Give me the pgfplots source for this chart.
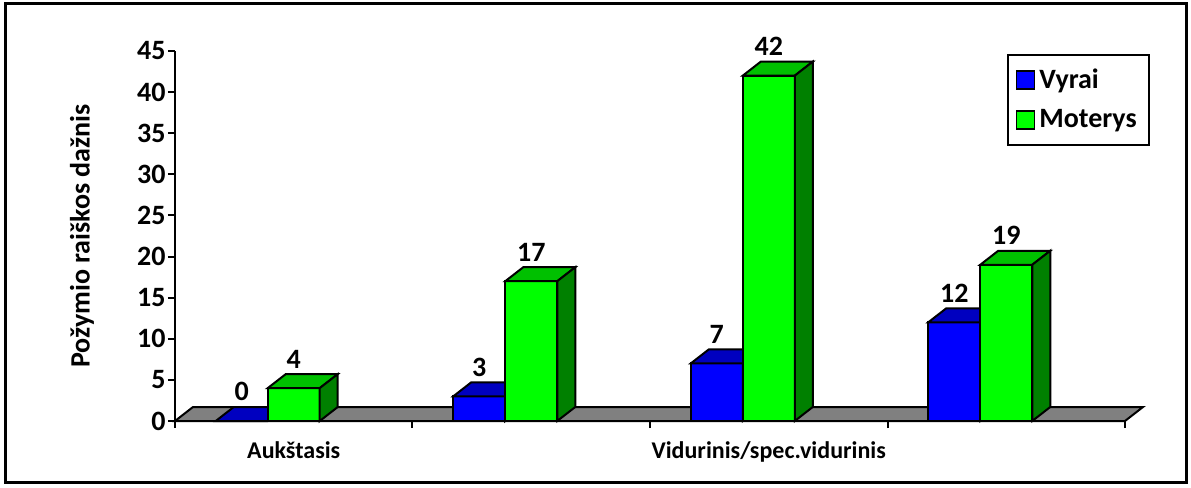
\documentclass[border=0pt]{standalone}
\usepackage{fontspec}
\setmainfont{Carlito}
\usepackage{pgfplots}
\usepackage{pgfplotstable}
\pgfplotsset{compat=1.18}

\definecolor{blueFront}{RGB}{0,0,255}
\definecolor{blueTop}{RGB}{0,0,192}
\definecolor{blueSide}{RGB}{0,0,128}
\definecolor{greenFront}{RGB}{0,255,0}
\definecolor{greenTop}{RGB}{0,192,0}
\definecolor{greenSide}{RGB}{0,128,0}
\definecolor{floorGray}{RGB}{128,128,128}

\pgfplotstableread{
x vyrai moterys
0 0  4
1 3  17
2 7  42
3 12 19
}\datatable

% y unit: 185pt for 45 units
\def\yu{4.1111pt}
\newdimen\cubeh
% front, top and side face of a bar, origin = top centre of the front face
\newcommand\cubefaces[3]{%
  \pgfsetlinewidth{1pt}%
  \pgfsetstrokecolor{black}%
  \pgfsetfillcolor{#1}%
  \pgfpathrectanglecorners{\pgfpoint{-13pt}{-\cubeh}}{\pgfpoint{13pt}{0pt}}%
  \pgfusepath{fill,stroke}%
  \pgfsetfillcolor{#2}%
  \pgfpathmoveto{\pgfpoint{-13pt}{0pt}}%
  \pgfpathlineto{\pgfpoint{13pt}{0pt}}%
  \pgfpathlineto{\pgfpoint{22pt}{7pt}}%
  \pgfpathlineto{\pgfpoint{-4pt}{7pt}}%
  \pgfpathclose
  \pgfusepath{fill,stroke}%
  \pgfsetfillcolor{#3}%
  \pgfpathmoveto{\pgfpoint{13pt}{0pt}}%
  \pgfpathlineto{\pgfpoint{22pt}{7pt}}%
  \pgfpathlineto{\pgfpointadd{\pgfpoint{22pt}{7pt}}{\pgfpoint{0pt}{-\cubeh}}}%
  \pgfpathlineto{\pgfpoint{13pt}{-\cubeh}}%
  \pgfpathclose
  \pgfusepath{fill,stroke}%
}
\pgfdeclareplotmark{cubeB}{\pgfmathsetlength\cubeh{\val*\yu}\cubefaces{blueFront}{blueTop}{blueSide}}
\pgfdeclareplotmark{cubeG}{\pgfmathsetlength\cubeh{\val*\yu}\cubefaces{greenFront}{greenTop}{greenSide}}

\begin{document}
\begin{tikzpicture}
\begin{axis}[
  x=118.75pt, y=\yu,
  xmin=-0.5, xmax=3.5, ymin=0, ymax=45,
  enlargelimits=false, clip=false,
  axis x line*=bottom, axis y line*=left,
  axis line style={-, line width=1pt},
  tick style={line width=1pt, black},
  tick align=outside, major tick length=3.5pt,
  ytick={0,5,...,45},
  xtick={-0.5,0.5,1.5,2.5,3.5}, xticklabels={},
  extra x ticks={0,2},
  extra x tick labels={Aukštasis,Vidurinis/spec.vidurinis},
  extra x tick style={major tick length=0pt,
    xticklabel style={font=\bfseries\fontsize{12}{14}\selectfont, yshift=-7pt}},
  yticklabel style={font=\bfseries\fontsize{14}{16}\selectfont, inner sep=1pt},
  /pgf/number format/assume math mode=true,
  ylabel={Požymio raiškos dažnis},
  ylabel style={font=\bfseries\fontsize{14}{16}\selectfont,
    at={(axis description cs:-0.098,0.5)}, anchor=center},
  nodes near coords style={font=\bfseries\fontsize{14}{16}\selectfont,
    anchor=south, inner sep=0pt, yshift=9.5pt},
  legend style={at={(axis description cs:1.026,0.992)}, anchor=north east,
    draw=black, line width=1pt, font=\bfseries\fontsize{14}{16}\selectfont,
    row sep=5pt, inner xsep=4pt, inner ysep=5pt},
  legend cell align=left,
]
\coordinate (O) at (axis cs:-0.5,0);
% floor
\addplot[fill=floorGray, draw=black, line width=1pt, forget plot]
  coordinates {(-0.5,0) (3.5,0) (3.5758,1.7027) (-0.4242,1.7027)} --cycle;

\addplot[ybar, bar width=26pt, bar shift=0pt, fill=blueFront, draw=black,
  line width=1pt,
  legend image code/.code={\draw[fill=blueFront, draw=black, line width=0.8pt] (0pt,-4.5pt) rectangle (9pt,4.5pt);}]
  table[x expr=\thisrow{x}-0.21895, y=vyrai]{\datatable};
\addplot[ybar, bar width=26pt, bar shift=0pt, fill=greenFront, draw=black,
  line width=1pt,
  legend image code/.code={\draw[fill=greenFront, draw=black, line width=0.8pt] (0pt,-4.5pt) rectangle (9pt,4.5pt);}]
  table[x=x, y=moterys]{\datatable};

% 3-D faces of the bars, blue first so that green covers it
\addplot[only marks, mark=cubeB, forget plot, nodes near coords,
  visualization depends on={\thisrow{vyrai} \as \val}]
  table[x expr=\thisrow{x}-0.21895, y=vyrai]{\datatable};
\addplot[only marks, mark=cubeG, forget plot, nodes near coords,
  visualization depends on={\thisrow{moterys} \as \val}]
  table[x=x, y=moterys]{\datatable};

\legend{Vyrai, Moterys}
\end{axis}
\draw[line width=1.5pt] ([shift={(-84.5pt,-30.5pt)}]O) rectangle ([shift={(505.5pt,208.5pt)}]O);
\path ([shift={(-87.5pt,-33.5pt)}]O) rectangle ([shift={(508pt,210.5pt)}]O);
\end{tikzpicture}
\end{document}
